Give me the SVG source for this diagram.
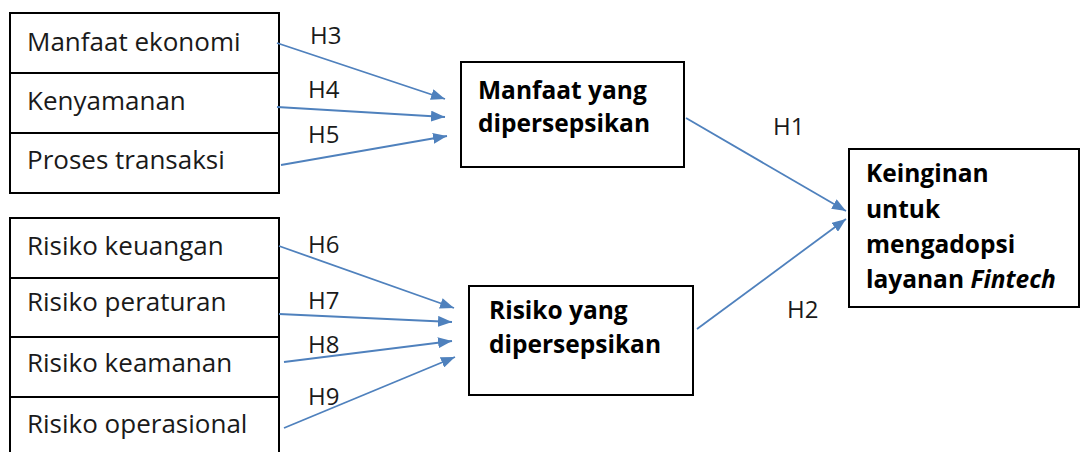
<svg xmlns="http://www.w3.org/2000/svg" width="1080" height="452" viewBox="0 0 1080 452">
<style>
.box{fill:#fff;stroke:#000;stroke-width:2}
.t{font-family:"Open Sans","Liberation Sans",sans-serif;font-size:26px;fill:#1a1a1a}
.h{font-family:"Open Sans","Liberation Sans",sans-serif;font-size:24px;fill:#1a1a1a}
.b{font-family:"Open Sans","Liberation Sans",sans-serif;font-size:24.5px;font-weight:bold;fill:#000}
.c{stroke:#4f81bd;stroke-width:1.8;fill:none;marker-end:url(#ah)}
</style>
<defs>
<marker id="ah" viewBox="0 0 14 11" refX="14" refY="5.5" markerWidth="14" markerHeight="11" markerUnits="userSpaceOnUse" orient="auto">
<path d="M0,0 L14,5.5 L0,11 z" fill="#4f81bd"/>
</marker>
</defs>
<rect width="1080" height="452" fill="#fff"/>
<g id="node-manfaat-ekonomi"><rect class="box" x="10" y="13" width="269" height="60"/><text class="t" x="27" y="51">Manfaat ekonomi</text></g>
<g id="node-kenyamanan"><rect class="box" x="10" y="73" width="269" height="60"/><text class="t" x="27" y="110">Kenyamanan</text></g>
<g id="node-proses-transaksi"><rect class="box" x="10" y="133" width="269" height="60"/><text class="t" x="27" y="169">Proses transaksi</text></g>
<g id="node-risiko-keuangan"><rect class="box" x="10" y="218" width="269" height="60"/><text class="t" x="27" y="255">Risiko keuangan</text></g>
<g id="node-risiko-peraturan"><rect class="box" x="10" y="278" width="269" height="59"/><text class="t" x="27" y="311">Risiko peraturan</text></g>
<g id="node-risiko-keamanan"><rect class="box" x="10" y="337" width="269" height="60"/><text class="t" x="27" y="372">Risiko keamanan</text></g>
<g id="node-risiko-operasional"><rect class="box" x="10" y="397" width="269" height="70"/><text class="t" x="27" y="433">Risiko operasional</text></g>
<g id="node-manfaat-dipersepsikan"><rect class="box" x="461" y="62" width="223" height="105"/><text class="b" x="478" y="99">Manfaat yang</text><text class="b" x="478" y="132">dipersepsikan</text></g>
<g id="node-risiko-dipersepsikan"><rect class="box" x="469" y="286" width="224" height="109"/><text class="b" x="489" y="319">Risiko yang</text><text class="b" x="489" y="353">dipersepsikan</text></g>
<g id="node-keinginan"><rect class="box" x="849" y="149" width="230" height="158"/><text class="b" x="866" y="182">Keinginan</text><text class="b" x="866" y="218">untuk</text><text class="b" x="866" y="253">mengadopsi</text><text class="b" x="866" y="288">layanan <tspan font-style="italic">Fintech</tspan></text></g>
<g id="connectors">
<line class="c" x1="277" y1="43" x2="445" y2="99"/>
<line class="c" x1="277" y1="107" x2="445" y2="117"/>
<line class="c" x1="281" y1="165" x2="447" y2="136"/>
<line class="c" x1="279" y1="246" x2="454" y2="308"/>
<line class="c" x1="279" y1="314" x2="452" y2="322"/>
<line class="c" x1="284" y1="362" x2="452" y2="341"/>
<line class="c" x1="284" y1="428" x2="455" y2="357"/>
<line class="c" x1="686" y1="118" x2="846" y2="211"/>
<line class="c" x1="697" y1="329" x2="846" y2="219"/>
</g>
<g id="labels">
<text class="h" x="310" y="44">H3</text>
<text class="h" x="308" y="98">H4</text>
<text class="h" x="308" y="143">H5</text>
<text class="h" x="308" y="253">H6</text>
<text class="h" x="308" y="309">H7</text>
<text class="h" x="308" y="353">H8</text>
<text class="h" x="308" y="405">H9</text>
<text class="h" x="773" y="135">H1</text>
<text class="h" x="787" y="318">H2</text>
</g>
</svg>
